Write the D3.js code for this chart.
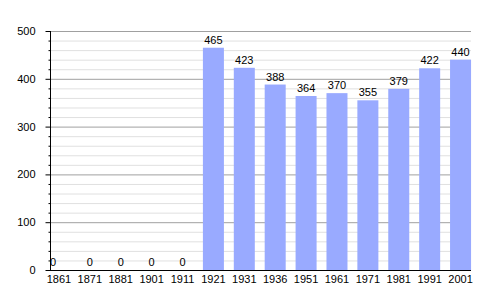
<!DOCTYPE html>
<html>
<head>
<meta charset="utf-8">
<script src="https://cdn.jsdelivr.net/npm/d3@7"></script>
<style>
body { margin: 0; background: #fff; }
text { font-family: "Liberation Sans", Arial, sans-serif; font-size: 11px; fill: #000; }
</style>
</head>
<body>
<div id="chart"></div>
<script>
// data
var years = ["1861", "1871", "1881", "1901", "1911", "1921", "1931", "1936", "1951", "1961", "1971", "1981", "1991", "2001"];
var population = [0, 0, 0, 0, 0, 465, 423, 388, 364, 370, 355, 379, 422, 440];
var yTicks = [0, 100, 200, 300, 400, 500];

var svgWidth = 500, svgHeight = 300;

var svg = d3.select('#chart')
    .append('svg')
    .attr('width', svgWidth)
    .attr('height', svgHeight);

var plotLeft = 50, plotRight = 471, plotTop = 31, plotBottom = 270;

var xScale = d3.scaleBand()
    .domain(years)
    .range([43.5, 476])
    .paddingInner(0.32)
    .paddingOuter(0.16);

var yScale = d3.scaleLinear()
    .domain([0, 500])
    .range([plotBottom, plotTop]);

// minor grid lines every 20
var minor = d3.range(20, 500, 20).filter(d => d % 100 != 0);
svg.append('g').selectAll('line')
    .data(minor)
    .enter()
    .append('line')
    .attr('x1', plotLeft).attr('x2', plotRight)
    .attr('y1', d => yScale(d) + 0.5).attr('y2', d => yScale(d) + 0.5)
    .attr('stroke', '#e0e0e0');

// major grid
svg.append('g').selectAll('line')
    .data(yTicks.slice(1))
    .enter()
    .append('line')
    .attr('x1', plotLeft).attr('x2', plotRight)
    .attr('y1', d => yScale(d) + 0.5).attr('y2', d => yScale(d) + 0.5)
    .attr('stroke', '#a0a0a0');

// bars
svg.append('g').selectAll('rect')
    .data(population)
    .enter()
    .append('rect')
    .attr('x', (d, i) => xScale(years[i]))
    .attr('y', d => yScale(d))
    .attr('width', xScale.bandwidth())
    .attr('height', d => yScale(0) - yScale(d))
    .attr('fill', '#99aaff');

// value labels
svg.append('g').selectAll('text')
    .data(population)
    .enter()
    .append('text')
    .attr('x', (d, i) => i == 0 ? plotLeft + 3 : xScale(years[i]) + xScale.bandwidth() / 2)
    .attr('y', d => yScale(d) - 4)
    .attr('text-anchor', 'middle')
    .text(d => d);

// y axis with minor ticks
var leftAxis = d3.axisLeft(yScale).tickValues(yTicks).tickSize(5).tickPadding(10);
var yAxis = svg.append('g')
    .attr('transform', `translate(${plotLeft + 0.5},0)`)
    .call(leftAxis);
yAxis.select('.domain').remove();
yAxis.selectAll('text').style('font-size', '11px').style('font-family', '"Liberation Sans", Arial, sans-serif');

svg.append('g')
    .attr('transform', `translate(${plotLeft + 0.5},0)`)
    .call(d3.axisLeft(yScale).tickValues(minor).tickSize(2).tickFormat(''))
    .select('.domain').remove();

svg.append('line')
    .attr('x1', plotLeft + 0.5).attr('x2', plotLeft + 0.5)
    .attr('y1', plotTop).attr('y2', plotBottom + 1)
    .attr('stroke', '#000');

// x axis
svg.append('line')
    .attr('x1', plotLeft).attr('x2', plotRight)
    .attr('y1', plotBottom + 0.5).attr('y2', plotBottom + 0.5)
    .attr('stroke', '#000');

svg.append('g').selectAll('text')
    .data(years)
    .enter()
    .append('text')
    .attr('x', d => xScale(d) + xScale.bandwidth() / 2)
    .attr('y', 283)
    .attr('text-anchor', 'middle')
    .text(d => d);
</script>
</body>
</html>
